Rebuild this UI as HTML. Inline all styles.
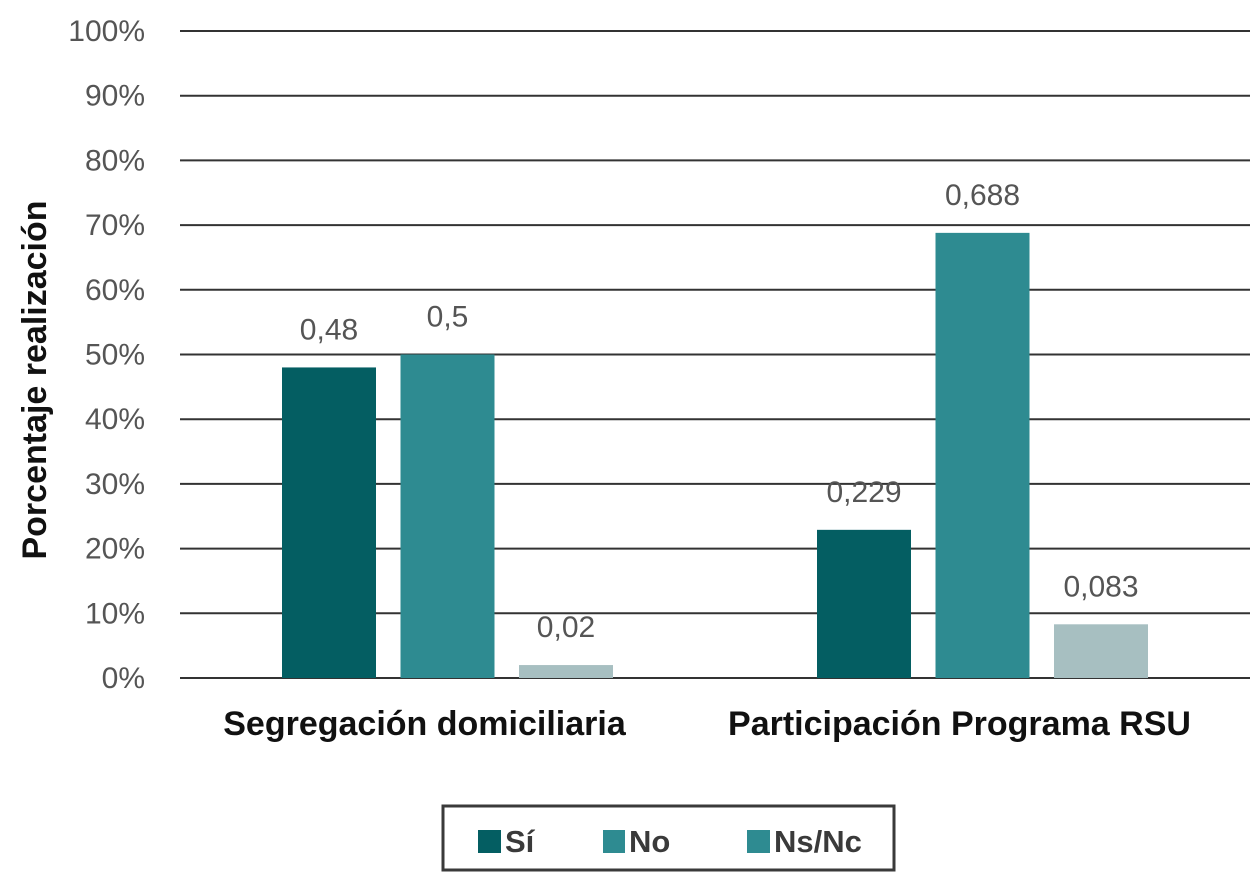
<!DOCTYPE html>
<html><head><meta charset="utf-8"><style>
body{margin:0;background:#fff;}
svg{display:block;font-family:"Liberation Sans",sans-serif;}
</style></head><body>
<svg id="chart" width="1256" height="877">
<g id="grid"></g><g id="bars"></g><g id="labels"></g>
<text transform="translate(46,380) rotate(-90)" text-anchor="middle" font-size="34" font-weight="bold" fill="#111">Porcentaje realización</text>
<g>
<rect x="443" y="806" width="451" height="64" fill="#fff" stroke="#3a3a3a" stroke-width="3"/>
<rect x="478" y="830" width="23" height="23" fill="#045e62"/>
<text x="505" y="852" font-size="31" font-weight="bold" fill="#3a3a3a">Sí</text>
<rect x="603" y="830" width="22" height="23" fill="#2e8b91"/>
<text x="629" y="852" font-size="31" font-weight="bold" fill="#3a3a3a">No</text>
<rect x="747" y="830" width="23" height="23" fill="#2e8b91"/>
<text x="774" y="852" font-size="31" font-weight="bold" fill="#3a3a3a">Ns/Nc</text>
</g>
</svg>
<script>
const categories = ["Segregación domiciliaria", "Participación Programa RSU"];
const siValues = [0.48, 0.229];
const noValues = [0.5, 0.688];
const nsValues = [0.02, 0.083];
const valueLabels = [["0,48","0,5","0,02"],["0,229","0,688","0,083"]];
const yTicks = [0,10,20,30,40,50,60,70,80,90,100];

const NS="http://www.w3.org/2000/svg";
const y0=678, y100=31, xL=180, xR=1250;
const yScale=v=>y0-(y0-y100)*v;
const groupStart=[282,817], barW=94, step=118.5;
const colors=["#045e62","#2e8b91","#a7bfc1"];
function mk(tag,attrs,parent,txt){const e=document.createElementNS(NS,tag);for(const k in attrs)e.setAttribute(k,attrs[k]);if(txt!==undefined)e.textContent=txt;parent.appendChild(e);return e;}
const grid=document.getElementById('grid'),bars=document.getElementById('bars'),labels=document.getElementById('labels');
yTicks.forEach(t=>{
  const y=yScale(t/100);
  const l=mk('line',{x1:xL,x2:xR,y1:y,y2:y,stroke:"#333","stroke-width":2},grid);
  
  
  const tx=mk('text',{x:145,y:y+10,"text-anchor":"end","font-size":30,fill:"#555"},grid,t+"%");
  
  
});
const series=[siValues,noValues,nsValues];
categories.forEach((c,i)=>{
  series.forEach((s,j)=>{
    const x=groupStart[i]+j*step, y=yScale(s[i]);
    const r=mk('rect',{x:x,y:y,width:barW,height:y0-y,fill:colors[j]},bars);
    
    
    const t=mk('text',{x:x+barW/2,y:y-28,"text-anchor":"middle","font-size":30,fill:"#555"},labels,valueLabels[i][j]);
    
    
  });
  const cx=groupStart[i]+(2*step+barW)/2-23;
  const ct=mk('text',{x:cx,y:735,"text-anchor":"middle","font-size":34,"font-weight":"bold",fill:"#111"},labels,c);
  
  
});
</script>
</body></html>
